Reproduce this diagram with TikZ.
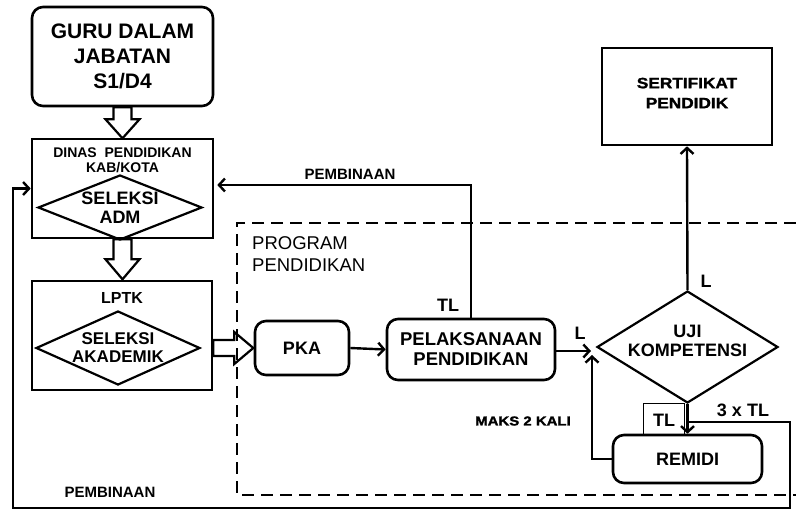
\documentclass[tikz,border=0pt]{standalone}
\usepackage{fontspec}
\setmainfont{Liberation Sans}
\usetikzlibrary{shapes.geometric,arrows.meta,calc}
\begin{document}
\begin{tikzpicture}[x=1pt,y=-1pt,
  box/.style={draw, line width=2.6pt, inner sep=0pt, align=center, font=\bfseries},
  rbox/.style={box, rounded corners=11pt},
  dia/.style={draw, diamond, line width=2.2pt, inner sep=0pt},
  conn/.style={line width=2.4pt, -{Straight Barb[length=6pt,width=13pt]}},
  blk/.style={line width=2.2pt, line join=miter},
  dashline/.style={line width=2.2pt, dash pattern=on 12pt off 7pt},
  lbl/.style={font=\bfseries\fontsize{18}{20}\selectfont, inner sep=0pt},
  small/.style={font=\bfseries\fontsize{15}{17}\selectfont, inner sep=0pt}]
\useasboundingbox (0,0) rectangle (796,512);
\fill[white] (0,0) rectangle (796,512);

% boxes
\node[rbox, minimum width=181pt, minimum height=99pt, font=\bfseries\fontsize{21}{25}\selectfont] (guru) at (122.5,56.5) {GURU DALAM\\JABATAN\\S1/D4};
\node[box, minimum width=181pt, minimum height=99pt] (dinas) at (122.5,188.5) {};
\node[font=\bfseries\fontsize{14}{15.5}\selectfont, align=center, inner sep=0pt] (dinast) at (122.5,160) {DINAS\ \ PENDIDIKAN\\KAB/KOTA};
\node[dia, minimum width=164pt, minimum height=65pt] (seladm) at (120,207.5) {};
\node[font=\bfseries\fontsize{18}{18.5}\selectfont, align=center, inner sep=0pt] at (seladm) {SELEKSI\\ADM};

\node[box, minimum width=180pt, minimum height=109pt] (lptk) at (122,335.5) {};
\node[font=\bfseries\fontsize{16}{18}\selectfont, inner sep=0pt] (lptkt) at (122,298) {LPTK};
\node[dia, minimum width=164pt, minimum height=74pt] (selak) at (118,348) {};
\node[font=\bfseries\fontsize{17}{18}\selectfont, align=center, inner sep=0pt] at (selak) {SELEKSI\\AKADEMIK};

\node[rbox, minimum width=94pt, minimum height=54pt, font=\bfseries\fontsize{18}{20}\selectfont] (pka) at (302,348) {PKA};
\node[rbox, minimum width=168pt, minimum height=61pt, font=\bfseries\fontsize{18.5}{20}\selectfont] (pel) at (471,349.5) {PELAKSANAAN\\PENDIDIKAN};
\node[dia, minimum width=181pt, minimum height=112pt] (uji) at (687.5,347) {};
\node[font=\bfseries\fontsize{18}{19}\selectfont, align=center, inner sep=0pt] at (687.5,341) {UJI\\KOMPETENSI};
\node[box, minimum width=170pt, minimum height=97pt] (sert) at (687,96.5) {};
\node[font=\bfseries\fontsize{15}{20}\selectfont\addfontfeature{FakeBold=1.5}, align=center, inner sep=0pt] at (687,93) {\scalebox{1.15}[1]{SERTIFIKAT}\\\scalebox{1.15}[1]{PENDIDIK}};
\node[rbox, minimum width=149pt, minimum height=48pt, font=\bfseries\fontsize{18}{20}\selectfont] (remidi) at (687.5,459) {REMIDI};

% dashed program area
\coordinate (dtr) at (796,223);
\coordinate (dtl) at (237,223);
\coordinate (dbl) at (237,495);
\coordinate (dbr) at (796,495);
\draw[dashline] (dtr) -- (dtl) -- (dbl) -- (dbr);
\node[font=\fontsize{18.5}{22}\selectfont, align=left, anchor=west, inner sep=0pt] (prog) at (252,254) {PROGRAM\\PENDIDIKAN};

% block arrows
\draw[blk] ($(guru.south)+(-9,0)$) -- ++(0,12) -- ++(-8,0) -- ($(guru.south)+(0,31)$) -- ++(17,-19) -- ++(-8,0) -- ++(0,-12) -- cycle;
\draw[blk] ($(dinas.south)+(-9,0)$) -- ++(0,20) -- ++(-8,0) -- ($(dinas.south)+(0,40)$) -- ++(17,-20) -- ++(-8,0) -- ++(0,-20) -- cycle;
\coordinate (ra) at (lptk.east |- selak);
\draw[blk] ($(ra)+(0,-8)$) -- ++(21,0) -- ++(0,-8) -- ($(ra)+(40,0)$) -- ++(-19,16) -- ++(0,-8) -- ++(-21,0) -- cycle;

% connectors
\draw[conn] (pka.east) -- (pel.west);
\coordinate (ujiin) at (591,351);
\draw[conn] (pel.east |- ujiin) -- (ujiin);
\coordinate (remin) at (592,355);
\draw[conn] (remidi.west) -| (remin);
\draw[conn] (uji.north) -- (sert.south);
\draw[conn] (uji.south) -- (remidi.north);
\coordinate (ptop) at (pel.north |- 0,185);
\draw[conn, shorten >=3pt] (pel.north) -- (ptop) -- (ptop -| dinas.east);
\coordinate (j) at (688,422);
\coordinate (c1) at (790,422);
\coordinate (c2) at (790,508);
\coordinate (c3) at (13,508);
\draw[conn] (j) -- (c1) -- (c2) -- (c3) |- (dinas.west);

% TL label box
\node[draw, line width=0.6pt, minimum width=41pt, minimum height=31pt, inner sep=0pt] (tlbox) at (664,418.5) {};
\node[lbl] at (664,420) {TL};

% labels
\node[small] at (350,174) {PEMBINAAN};
\node[small] at (110,492) {PEMBINAAN};
\node[lbl] at (448,305) {TL};
\node[lbl] at (580,333) {L};
\node[lbl] at (706,281) {L};
\node[lbl] at (743,410) {3 x TL};
\node[font=\bfseries\fontsize{13}{15}\selectfont\addfontfeature{FakeBold=1.5}, inner sep=0pt] at (523,421) {\scalebox{1.15}[1]{MAKS 2 KALI}};
\end{tikzpicture}
\end{document}
